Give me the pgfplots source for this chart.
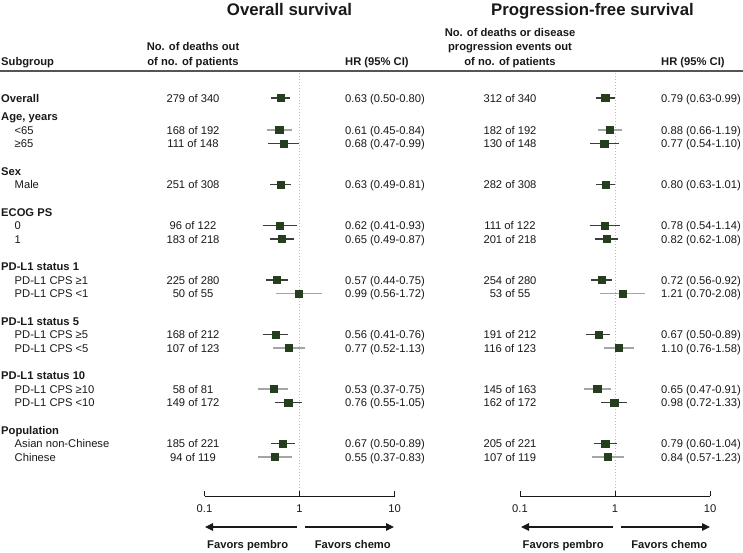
\documentclass[border=0pt]{standalone}
\usepackage{pgfplots}
\pgfplotsset{compat=1.18}
\usepackage{fontspec}
\setmainfont{Liberation Sans}
\usetikzlibrary{arrows.meta}
\definecolor{txt}{RGB}{25,25,25}
\definecolor{sq}{RGB}{36,62,30}
\definecolor{cidark}{RGB}{60,60,60}
\definecolor{cigray}{RGB}{165,165,165}
\definecolor{hline}{RGB}{85,85,85}
\newcommand{\fs}{\fontsize{11.2}{13.4}\selectfont}
\pgfplotsset{
  forest/.style={
    anchor=south west, scale only axis, width=190pt, height=426pt,
    xmin=0.1, xmax=10, ymin=70, ymax=496, y dir=reverse,
    axis x line*=bottom, axis y line=none,
    xtick={0.1,1,10}, xticklabels={0.1,1,10}, xminorticks=false,
    tick align=inside, major tick length=5pt,
    every tick/.style={txt, line width=0.7pt},
    axis line style={txt, line width=0.7pt},
    xticklabel style={font=\fs, text=txt, yshift=-5pt},
    clip=false
  },
  ci/.style={line width=1.5pt, mark=none},
  sqm/.style={only marks, mark=square*, mark size=3.6pt, mark options={fill=sq, draw=sq, line width=0.4pt}}
}
\begin{document}
\begin{tikzpicture}
\begin{scope}[x=1pt,y=1pt]
\path[use as bounding box] (0,0) rectangle (743,-552);
\begin{scope}[every node/.style={font=\fs, text=txt, inner sep=0pt}]
% titles
\node[anchor=base, font=\fontsize{16.8}{20}\selectfont\bfseries] at (289.5,-15) {Overall survival};
\node[anchor=base, font=\fontsize{16.8}{20}\selectfont\bfseries] at (592.5,-15) {Progression-free survival};
% headers
\node[anchor=base west, font=\fs\bfseries] at (1,-65) {Subgroup};
\node[anchor=base, font=\fs\bfseries] at (193,-50) {No. of deaths out};
\node[anchor=base, font=\fs\bfseries] at (193,-65) {of no. of patients};
\node[anchor=base west, font=\fs\bfseries] at (345,-65) {HR (95\% CI)};
\node[anchor=base, font=\fs\bfseries] at (510,-36) {No. of deaths or disease};
\node[anchor=base, font=\fs\bfseries] at (510,-50) {progression events out};
\node[anchor=base, font=\fs\bfseries] at (510,-65) {of no. of patients};
\node[anchor=base west, font=\fs\bfseries] at (661,-65) {HR (95\% CI)};
% subgroup labels
\node[anchor=base west, font=\fs\bfseries] at (1,-102) {Overall};
\node[anchor=base west, font=\fs\bfseries] at (1,-120.5) {Age, years};
\node[anchor=base west] at (14.5,-134) {<65};
\node[anchor=base west] at (14.5,-147.5) {≥65};
\node[anchor=base west, font=\fs\bfseries] at (1,-175) {Sex};
\node[anchor=base west] at (14.5,-188.5) {Male};
\node[anchor=base west, font=\fs\bfseries] at (1,-216) {ECOG PS};
\node[anchor=base west] at (14.5,-229.5) {0};
\node[anchor=base west] at (14.5,-243) {1};
\node[anchor=base west, font=\fs\bfseries] at (1,-270.5) {PD-L1 status 1};
\node[anchor=base west] at (14.5,-284) {PD-L1 CPS ≥1};
\node[anchor=base west] at (14.5,-297.5) {PD-L1 CPS <1};
\node[anchor=base west, font=\fs\bfseries] at (1,-325) {PD-L1 status 5};
\node[anchor=base west] at (14.5,-338.5) {PD-L1 CPS ≥5};
\node[anchor=base west] at (14.5,-352) {PD-L1 CPS <5};
\node[anchor=base west, font=\fs\bfseries] at (1,-379.5) {PD-L1 status 10};
\node[anchor=base west] at (14.5,-393) {PD-L1 CPS ≥10};
\node[anchor=base west] at (14.5,-406.5) {PD-L1 CPS <10};
\node[anchor=base west, font=\fs\bfseries] at (1,-434) {Population};
\node[anchor=base west] at (14.5,-447.5) {Asian non-Chinese};
\node[anchor=base west] at (14.5,-461) {Chinese};
% OS counts
\node[anchor=base] at (193,-102) {279 of 340};
\node[anchor=base] at (193,-134) {168 of 192};
\node[anchor=base] at (193,-147.5) {111 of 148};
\node[anchor=base] at (193,-188.5) {251 of 308};
\node[anchor=base] at (193,-229.5) {96 of 122};
\node[anchor=base] at (193,-243) {183 of 218};
\node[anchor=base] at (193,-284) {225 of 280};
\node[anchor=base] at (193,-297.5) {50 of 55};
\node[anchor=base] at (193,-338.5) {168 of 212};
\node[anchor=base] at (193,-352) {107 of 123};
\node[anchor=base] at (193,-393) {58 of 81};
\node[anchor=base] at (193,-406.5) {149 of 172};
\node[anchor=base] at (193,-447.5) {185 of 221};
\node[anchor=base] at (193,-461) {94 of 119};
% OS HR text
\node[anchor=base west] at (345,-102) {0.63 (0.50-0.80)};
\node[anchor=base west] at (345,-134) {0.61 (0.45-0.84)};
\node[anchor=base west] at (345,-147.5) {0.68 (0.47-0.99)};
\node[anchor=base west] at (345,-188.5) {0.63 (0.49-0.81)};
\node[anchor=base west] at (345,-229.5) {0.62 (0.41-0.93)};
\node[anchor=base west] at (345,-243) {0.65 (0.49-0.87)};
\node[anchor=base west] at (345,-284) {0.57 (0.44-0.75)};
\node[anchor=base west] at (345,-297.5) {0.99 (0.56-1.72)};
\node[anchor=base west] at (345,-338.5) {0.56 (0.41-0.76)};
\node[anchor=base west] at (345,-352) {0.77 (0.52-1.13)};
\node[anchor=base west] at (345,-393) {0.53 (0.37-0.75)};
\node[anchor=base west] at (345,-406.5) {0.76 (0.55-1.05)};
\node[anchor=base west] at (345,-447.5) {0.67 (0.50-0.89)};
\node[anchor=base west] at (345,-461) {0.55 (0.37-0.83)};
% PFS counts
\node[anchor=base] at (510,-102) {312 of 340};
\node[anchor=base] at (510,-134) {182 of 192};
\node[anchor=base] at (510,-147.5) {130 of 148};
\node[anchor=base] at (510,-188.5) {282 of 308};
\node[anchor=base] at (510,-229.5) {111 of 122};
\node[anchor=base] at (510,-243) {201 of 218};
\node[anchor=base] at (510,-284) {254 of 280};
\node[anchor=base] at (510,-297.5) {53 of 55};
\node[anchor=base] at (510,-338.5) {191 of 212};
\node[anchor=base] at (510,-352) {116 of 123};
\node[anchor=base] at (510,-393) {145 of 163};
\node[anchor=base] at (510,-406.5) {162 of 172};
\node[anchor=base] at (510,-447.5) {205 of 221};
\node[anchor=base] at (510,-461) {107 of 119};
% PFS HR text
\node[anchor=base west] at (661,-102) {0.79 (0.63-0.99)};
\node[anchor=base west] at (661,-134) {0.88 (0.66-1.19)};
\node[anchor=base west] at (661,-147.5) {0.77 (0.54-1.10)};
\node[anchor=base west] at (661,-188.5) {0.80 (0.63-1.01)};
\node[anchor=base west] at (661,-229.5) {0.78 (0.54-1.14)};
\node[anchor=base west] at (661,-243) {0.82 (0.62-1.08)};
\node[anchor=base west] at (661,-284) {0.72 (0.56-0.92)};
\node[anchor=base west] at (661,-297.5) {1.21 (0.70-2.08)};
\node[anchor=base west] at (661,-338.5) {0.67 (0.50-0.89)};
\node[anchor=base west] at (661,-352) {1.10 (0.76-1.58)};
\node[anchor=base west] at (661,-393) {0.65 (0.47-0.91)};
\node[anchor=base west] at (661,-406.5) {0.98 (0.72-1.33)};
\node[anchor=base west] at (661,-447.5) {0.79 (0.60-1.04)};
\node[anchor=base west] at (661,-461) {0.84 (0.57-1.23)};
% favors
\node[anchor=base west, font=\fs\bfseries] at (207,-548) {Favors pembro};
\node[anchor=base east, font=\fs\bfseries] at (391,-548) {Favors chemo};
\node[anchor=base west, font=\fs\bfseries] at (522.5,-548) {Favors pembro};
\node[anchor=base east, font=\fs\bfseries] at (707.5,-548) {Favors chemo};
\end{scope}
% header rule
\draw[hline, line width=2.6pt] (0,-71) -- (743,-71);
% arrows
\draw[txt, line width=1.2pt, -{Triangle[length=8pt,width=7.5pt]}] (297,-527) -- (205,-527);
\draw[txt, line width=1.2pt, -{Triangle[length=8pt,width=7.5pt]}] (305,-527) -- (394,-527);
\draw[txt, line width=1.2pt, -{Triangle[length=8pt,width=7.5pt]}] (613,-527) -- (521,-527);
\draw[txt, line width=1.2pt, -{Triangle[length=8pt,width=7.5pt]}] (621,-527) -- (710,-527);
\end{scope}

% ---------------- OS panel
\begin{axis}[xmode=log, forest, at={(204.5pt,-496pt)}]
\addplot[gray!55, dash pattern=on 1pt off 2pt, line width=0.6pt] coordinates {(1,73) (1,491)};
\addplot[ci, cidark] coordinates {(0.50,98) (0.80,98)};
\addplot[ci, cidark] coordinates {(0.47,143.5) (0.99,143.5)};
\addplot[ci, cidark] coordinates {(0.49,184.5) (0.81,184.5)};
\addplot[ci, cidark] coordinates {(0.41,225.5) (0.93,225.5)};
\addplot[ci, cidark] coordinates {(0.49,239) (0.87,239)};
\addplot[ci, cidark] coordinates {(0.44,280) (0.75,280)};
\addplot[ci, cidark] coordinates {(0.41,334.5) (0.76,334.5)};
\addplot[ci, cidark] coordinates {(0.55,402.5) (1.05,402.5)};
\addplot[ci, cidark] coordinates {(0.50,443.5) (0.89,443.5)};
\addplot[ci, cigray] coordinates {(0.45,130) (0.84,130)};
\addplot[ci, cigray] coordinates {(0.56,293.5) (1.72,293.5)};
\addplot[ci, cigray] coordinates {(0.52,348) (1.13,348)};
\addplot[ci, cigray] coordinates {(0.37,389) (0.75,389)};
\addplot[ci, cigray] coordinates {(0.37,457) (0.83,457)};
\addplot[sqm] coordinates {
(0.63,98) (0.61,130) (0.68,143.5) (0.63,184.5) (0.62,225.5) (0.65,239)
(0.57,280) (0.99,293.5) (0.56,334.5) (0.77,348) (0.53,389) (0.76,402.5)
(0.67,443.5) (0.55,457)};
\end{axis}

% ---------------- PFS panel
\begin{axis}[xmode=log, forest, at={(520pt,-496pt)}]
\addplot[gray!55, dash pattern=on 1pt off 2pt, line width=0.6pt] coordinates {(1,73) (1,491)};
\addplot[ci, cidark] coordinates {(0.63,98) (0.99,98)};
\addplot[ci, cidark] coordinates {(0.54,143.5) (1.10,143.5)};
\addplot[ci, cidark] coordinates {(0.63,184.5) (1.01,184.5)};
\addplot[ci, cidark] coordinates {(0.54,225.5) (1.14,225.5)};
\addplot[ci, cidark] coordinates {(0.62,239) (1.08,239)};
\addplot[ci, cidark] coordinates {(0.56,280) (0.92,280)};
\addplot[ci, cidark] coordinates {(0.50,334.5) (0.89,334.5)};
\addplot[ci, cidark] coordinates {(0.72,402.5) (1.33,402.5)};
\addplot[ci, cidark] coordinates {(0.60,443.5) (1.04,443.5)};
\addplot[ci, cigray] coordinates {(0.66,130) (1.19,130)};
\addplot[ci, cigray] coordinates {(0.70,293.5) (2.08,293.5)};
\addplot[ci, cigray] coordinates {(0.76,348) (1.58,348)};
\addplot[ci, cigray] coordinates {(0.47,389) (0.91,389)};
\addplot[ci, cigray] coordinates {(0.57,457) (1.23,457)};
\addplot[sqm] coordinates {
(0.79,98) (0.88,130) (0.77,143.5) (0.80,184.5) (0.78,225.5) (0.82,239)
(0.72,280) (1.21,293.5) (0.67,334.5) (1.10,348) (0.65,389) (0.98,402.5)
(0.79,443.5) (0.84,457)};
\end{axis}
\end{tikzpicture}
\end{document}
